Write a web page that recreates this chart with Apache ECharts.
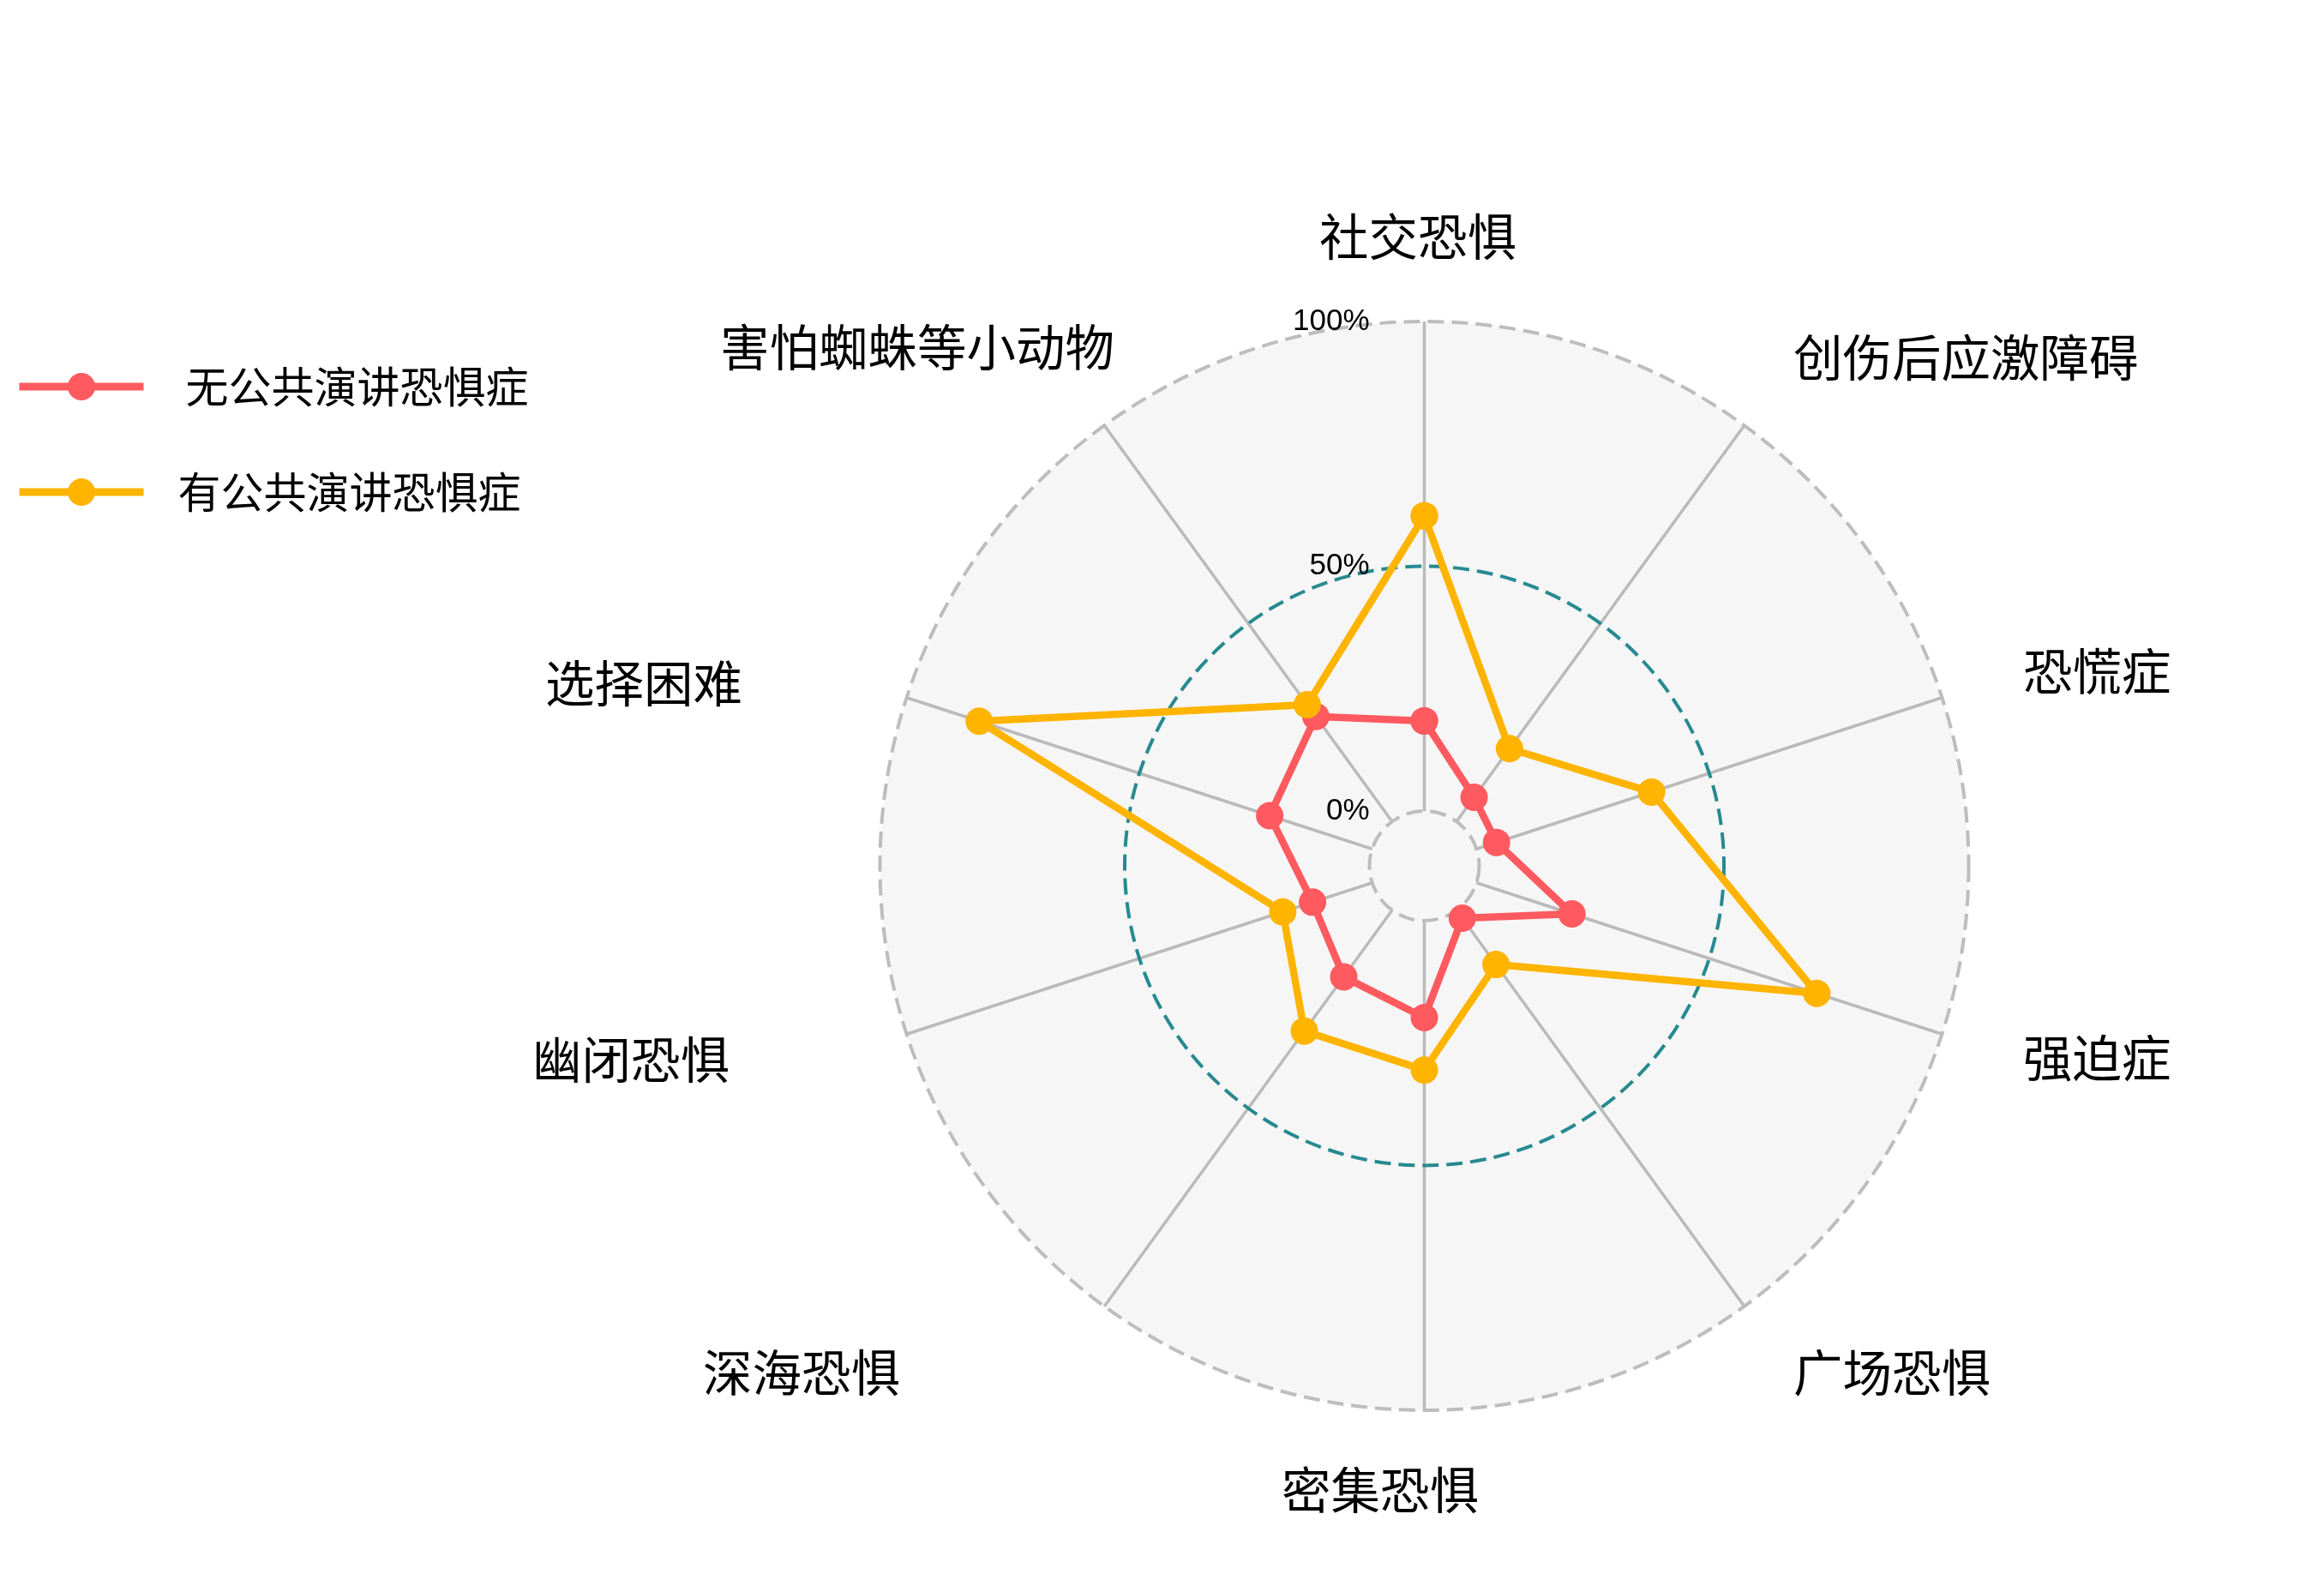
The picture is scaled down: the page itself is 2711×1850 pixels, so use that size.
<!DOCTYPE html>
<html><head><meta charset="utf-8">
<script src="https://cdn.jsdelivr.net/npm/echarts@6/dist/echarts.min.js"></script>
<style>html,body{margin:0;padding:0;background:#fff}#c{width:2711px;height:1850px}</style>
</head><body><div id="c"></div>
<script>
// ---- data ----
const categories = ['社交恐惧','创伤后应激障碍','恐慌症','强迫症','广场恐惧','密集恐惧','深海恐惧','幽闭恐惧','选择困难','害怕蜘蛛等小动物'];
const seriesNames = ['无公共演讲恐惧症','有公共演讲恐惧症'];
const noFear   = [18.4, 6.1, 4.3, 20.5, 2.0, 19.8, 16.8, 12.8, 22.0, 26.5];
const withFear = [60.3, 18.4, 37.6, 73.1, 13.7, 30.5, 30.5, 19.2, 84.4, 29.5];
const radiusTicks = [0, 50, 100];

// ---- styles ----
const RED = '#FF5A5F', ORANGE = '#FFB400', TEAL = '#268a90', GRID = '#bdbdbd', SPOKE = '#bababa', BG = '#f6f6f6';
const CJK = '"Noto Sans CJK SC", "Noto Sans", sans-serif';
// per-label padding [top, right, bottom, left] to place category labels
const labelPads = [
  [0, 15, 256, 0],
  [0, 0, 205, 75],
  [0, 0, 80, 123],
  [75, 0, 0, 123],
  [202, 0, 0, 75],
  [246, 103, 0, 0],
  [202, 256, 0, 0],
  [78, 235, 0, 0],
  [0, 220, 52, 0],
  [0, 6, 229, 0]
];

const step = 360 / categories.length;
function toPolar(values) {
  const pts = values.map((v, i) => [v, i * step]);
  pts.push([values[0], 360]);
  return pts;
}
const rich = {};
labelPads.forEach((p, i) => {
  rich['c' + i] = { fontSize: 57.5, fontFamily: CJK, color: '#000', lineHeight: 1, padding: p };
});

const chart = echarts.init(document.getElementById('c'), null, { renderer: 'canvas' });
chart.setOption({
  animation: false,
  backgroundColor: '#ffffff',
  legend: {
    orient: 'vertical', left: 13, top: 421,
    itemWidth: 145, itemHeight: 40, itemGap: 73,
    lineStyle: { width: 9 },
    textStyle: { fontSize: 50, fontFamily: CJK, color: '#000' },
    data: [
      { name: seriesNames[0], textStyle: { padding: [0, 0, 0, 44] } },
      { name: seriesNames[1], textStyle: { padding: [0, 0, 0, 35] } }
    ]
  },
  polar: [
    { center: [1661.5, 1010], radius: [64, 635] },
    { center: [1661.5, 1010], radius: [0, 635] }
  ],
  angleAxis: [
    {
      polarIndex: 0, type: 'value', min: 0, max: 360, interval: step,
      startAngle: 90, clockwise: true,
      axisLine: { show: false }, axisTick: { show: false },
      splitLine: { show: true, lineStyle: { color: SPOKE, width: 3.5 } },
      axisLabel: {
        show: true, margin: -30,
        formatter: function (v) {
          const i = Math.round(v / step);
          if (i >= categories.length) return '';
          return '{c' + i + '|' + categories[i] + '}';
        },
        rich: rich
      }
    },
    {
      polarIndex: 1, type: 'value', min: 0, max: 360, startAngle: 90,
      axisLine: { show: false }, axisTick: { show: false },
      axisLabel: { show: false }, splitLine: { show: false }
    }
  ],
  radiusAxis: [
    {
      polarIndex: 0, type: 'value', min: 0, max: 100, interval: 50, z: 3,
      axisLine: { show: false }, axisTick: { show: false },
      axisLabel: { formatter: '{value}%', margin: 64, fontSize: 35, color: '#000', fontFamily: '"Liberation Sans", Arial, sans-serif' },
      splitLine: { show: true, lineStyle: { color: radiusTicks.map(t => t === 50 ? TEAL : GRID), width: 4, type: [19, 9] } }
    },
    {
      polarIndex: 1, type: 'value', min: 0, max: 1, interval: 1, z: -1,
      axisLine: { show: false }, axisTick: { show: false }, axisLabel: { show: false },
      splitLine: { show: false },
      splitArea: { show: true, areaStyle: { color: [BG] } }
    }
  ],
  series: [
    {
      name: seriesNames[0], type: 'line', coordinateSystem: 'polar', polarIndex: 0,
      data: toPolar(noFear), symbol: 'circle', symbolSize: 32,
      lineStyle: { color: RED, width: 8.5 }, itemStyle: { color: RED }, z: 4
    },
    {
      name: seriesNames[1], type: 'line', coordinateSystem: 'polar', polarIndex: 0,
      data: toPolar(withFear), symbol: 'circle', symbolSize: 32,
      lineStyle: { color: ORANGE, width: 8.5 }, itemStyle: { color: ORANGE }, z: 5
    }
  ]
});
</script></body></html>
